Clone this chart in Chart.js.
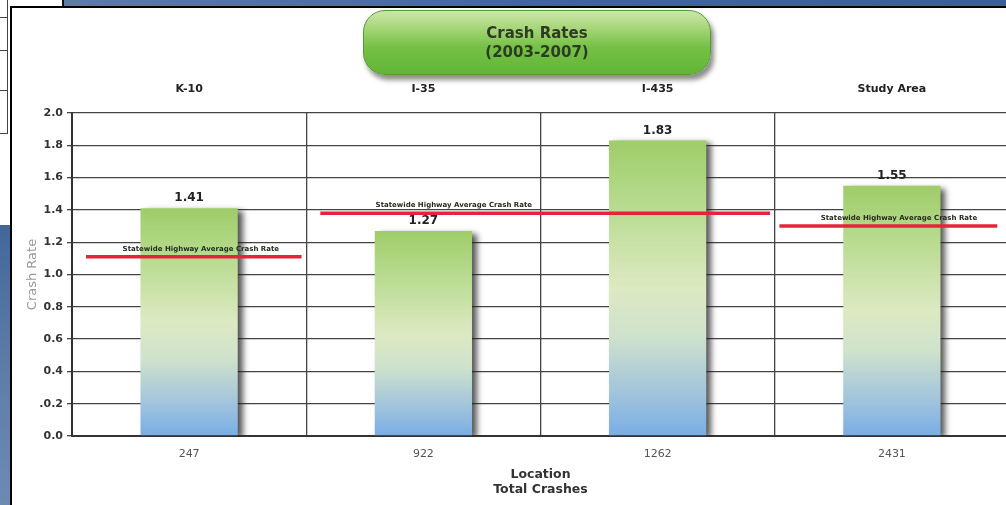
<!DOCTYPE html>
<html>
<head>
<meta charset="utf-8">
<script src="https://cdn.jsdelivr.net/npm/chart.js@4.4.1/dist/chart.umd.min.js"></script>
<style>
  body { margin:0; width:1006px; height:505px; overflow:hidden; position:relative; background:#fff; font-family:"DejaVu Sans", sans-serif; }
  .abs { position:absolute; }
  #topband { left:62px; top:0; width:944px; height:6px; background:linear-gradient(90deg,#5d7ca6,#41679a 50%,#3b6193); border-left:2px solid #111; border-bottom:2px solid #111; }
  #panel { left:10px; top:6px; right:0; bottom:0; border-left:2px solid #000; border-top:2px solid #000; background:#fff; }
  #strip { left:0; top:225px; width:10px; bottom:0; background:linear-gradient(180deg,#41679a,#5b7ba6 45%,#6d8ab3); }
  #tbl { left:0; top:0; width:7px; height:133px; border-right:1px solid #444; border-bottom:1px solid #444; }
  .row { position:absolute; left:0; width:7px; height:0; border-top:1px solid #444; }
  #chart { left:12px; top:8px; }
  #pill { left:363px; top:10px; width:348px; height:65px; border-radius:22px;
    background:linear-gradient(180deg,#cbe6a9 0%,#a6d577 28%,#74c046 58%,#62b536 100%);
    border:1px solid #5a9a33; box-shadow:3px 5px 5px rgba(0,0,0,0.45);
    text-align:center; font-weight:bold; font-size:15px; line-height:19px; color:#2d3b25; padding-top:13px; box-sizing:border-box; }
</style>
</head>
<body>
<div id="topband" class="abs"></div>
<div id="tbl" class="abs">
  <div class="row" style="top:17px"></div>
  <div class="row" style="top:50px"></div>
  <div class="row" style="top:90px"></div>
</div>
<div id="strip" class="abs"></div>
<div id="panel" class="abs"></div>
<canvas id="chart" class="abs" width="1000" height="497"></canvas>
<div id="pill" class="abs">Crash Rates<br>(2003-2007)</div>
<script>
// Data
const locations = ['K-10', 'I-35', 'I-435', 'Study Area'];
const crashRates = [1.41, 1.27, 1.83, 1.55];
const totalCrashes = ['247', '922', '1262', '2431'];
const yTickLabels = ['0.0', '.0.2', '0.4', '0.6', '0.8', '1.0', '1.2', '1.4', '1.6', '1.8', '2.0'];

// Statewide highway average lines (x in category units)
const avgRate = [1.11, 1.38, 1.30];
const avgFrom = [-0.44, 0.56, 2.52];
const avgTo = [0.48, 2.48, 3.45];
const avgLabelAt = [0.05, 1.13, 3.03];
const avgLabel = 'Statewide Highway Average Crash Rate';

const FONT = '"DejaVu Sans", sans-serif';

function barGradient(c) {
  const chart = c.chart;
  const y = chart.scales.y;
  if (!chart.chartArea || !y || c.raw === undefined) return '#a8d27a';
  const top = y.getPixelForValue(c.raw);
  const bottom = y.getPixelForValue(0);
  const g = chart.ctx.createLinearGradient(0, top, 0, bottom);
  g.addColorStop(0, '#9fcd68');
  g.addColorStop(0.2, '#b5da8c');
  g.addColorStop(0.5, '#dde9c2');
  g.addColorStop(0.66, '#cfe2cc');
  g.addColorStop(0.85, '#a3c5dc');
  g.addColorStop(1, '#79ade6');
  return g;
}

const lineSets = avgRate.map((r, i) => ({
  type: 'line',
  label: avgLabel,
  xAxisID: 'xl',
  data: [{ x: avgFrom[i], y: r }, { x: avgTo[i], y: r }],
  borderColor: '#e3243a',
  borderWidth: 3.5,
  pointRadius: 0,
  order: 1
}));

// drop shadow under bars
const barShadow = {
  id: 'barShadow',
  beforeDatasetDraw(chart, args) {
    if (args.index !== 0) return;
    const ctx = chart.ctx;
    ctx.save();
    ctx.shadowColor = 'rgba(30,30,30,0.75)';
    ctx.shadowBlur = 6;
    ctx.shadowOffsetX = 5;
    ctx.shadowOffsetY = 3;
  },
  afterDatasetDraw(chart, args) {
    if (args.index !== 0) return;
    chart.ctx.restore();
  }
};

// value labels and average line labels
const textLabels = {
  id: 'textLabels',
  afterDatasetsDraw(chart) {
    const ctx = chart.ctx;
    const y = chart.scales.y;
    const x = chart.scales.x;
    const xl = chart.scales.xl;
    ctx.save();
    ctx.textAlign = 'center';
    ctx.textBaseline = 'middle';
    ctx.fillStyle = '#222';
    ctx.font = 'bold 12px ' + FONT;
    crashRates.forEach((v, i) => {
      ctx.fillText(v.toFixed(2), x.getPixelForValue(i), y.getPixelForValue(v) - 10);
    });
    ctx.font = 'bold 7px ' + FONT;
    ctx.fillStyle = '#2a2a1e';
    avgRate.forEach((r, i) => {
      ctx.fillText(avgLabel, xl.getPixelForValue(avgLabelAt[i]), y.getPixelForValue(r) - 8);
    });
    ctx.restore();
  }
};

new Chart(document.getElementById('chart'), {
  type: 'bar',
  data: {
    labels: locations,
    datasets: [{
      label: 'Crash Rate',
      data: crashRates,
      xAxisID: 'x',
      backgroundColor: barGradient,
      borderWidth: 0,
      grouped: false,
      barPercentage: 0.415,
      categoryPercentage: 1,
      order: 2
    }].concat(lineSets)
  },
  options: {
    responsive: false,
    animation: false,
    layout: { padding: { left: 0, right: 3, top: 0, bottom: 0 } },
    plugins: { legend: { display: false }, tooltip: { enabled: false } },
    scales: {
      x: {
        position: 'bottom',
        offset: true,
        grid: { offset: true, color: '#444', lineWidth: 1.3, drawTicks: false },
        border: { color: '#333', width: 2 },
        ticks: { padding: 12, color: '#555', font: { family: FONT, size: 11 }, callback: (v, i) => totalCrashes[i] },
        title: { display: true, text: ['Location', 'Total Crashes'], color: '#333', font: { family: FONT, size: 12.5, weight: 'bold' }, padding: { top: 2, bottom: 8 } },
        afterFit: s => { s.height = 69; }
      },
      x2: {
        type: 'category',
        position: 'top',
        labels: locations,
        offset: true,
        grid: { display: false },
        border: { display: false },
        ticks: { padding: 9, color: '#222', font: { family: FONT, size: 11, weight: 'bold' } },
        afterFit: s => { s.height = 105; }
      },
      xl: { type: 'linear', display: false, offset: false, min: -0.5, max: 3.5 },
      y: {
        min: 0,
        max: 2,
        ticks: { stepSize: 0.2, color: '#333', padding: 4, font: { family: FONT, size: 11, weight: 'bold' }, callback: (v, i) => yTickLabels[i] },
        grid: { color: '#444', lineWidth: 1.3, tickLength: 5 },
        border: { color: '#333', width: 2 },
        title: { display: true, text: 'Crash Rate', color: '#999', font: { family: FONT, size: 13 }, padding: { top: 13, bottom: 0 } },
        afterFit: s => { s.width = 60; }
      }
    }
  },
  plugins: [barShadow, textLabels]
});
</script>
</body>
</html>
